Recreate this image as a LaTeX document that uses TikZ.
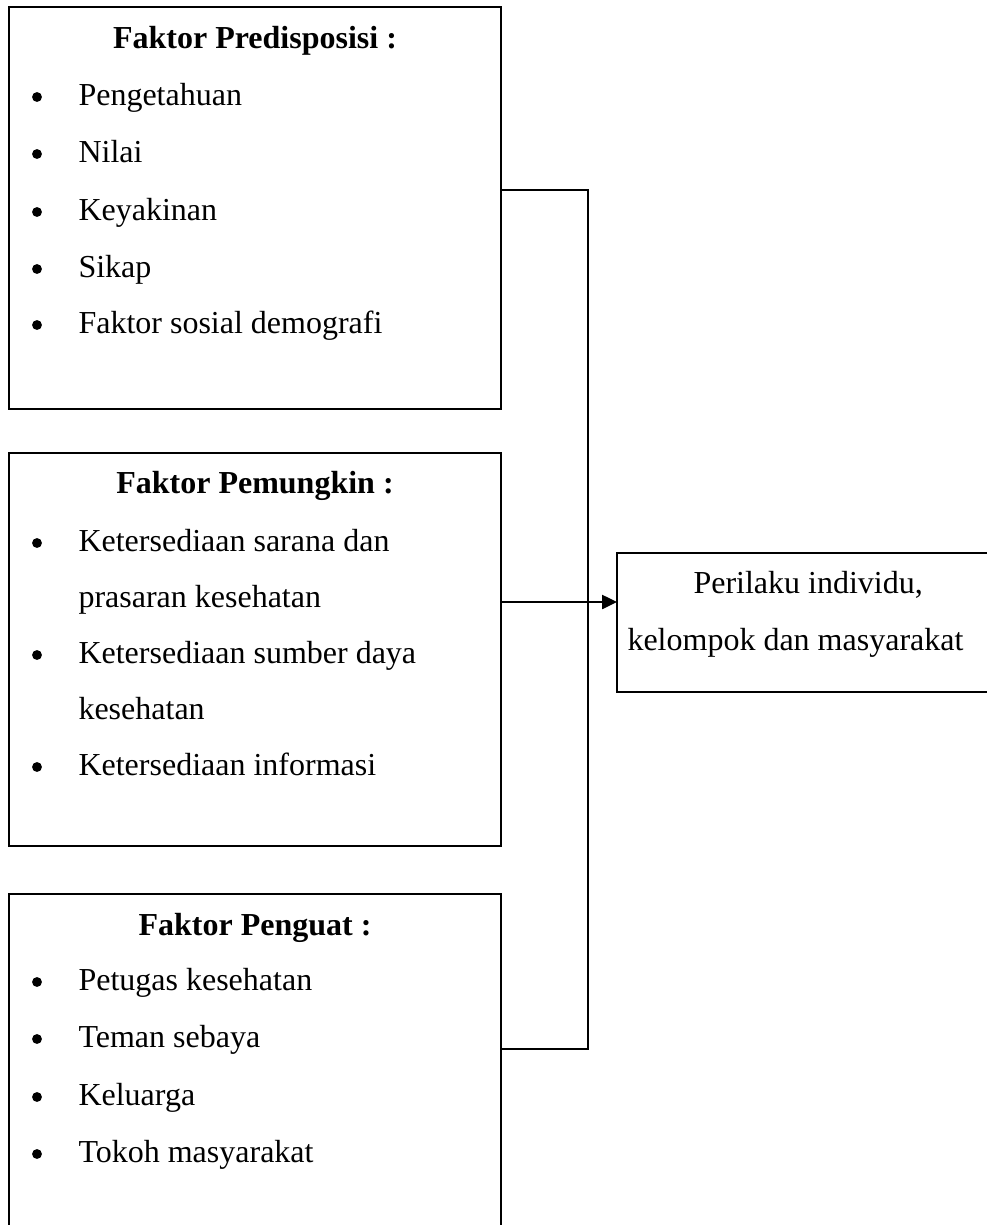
\documentclass[tikz,border=0pt]{standalone}
\usepackage{fontspec}
\setmainfont{Liberation Serif}
\usetikzlibrary{arrows.meta}
\begin{document}
\begin{tikzpicture}[x=0.375pt,y=-0.375pt,
  box/.style={draw, line width=0.7pt, rectangle, inner sep=0pt, outer sep=0pt, anchor=north west},
  txt/.style={anchor=base west, inner sep=0pt, font=\fontsize{12}{14}\selectfont},
  ttl/.style={anchor=base, inner sep=0pt, font=\fontsize{12}{14}\selectfont\bfseries},
  dot/.style={circle, fill=black, draw=none, inner sep=0pt, minimum size=3.7pt},
  conn/.style={line width=0.7pt}]
\useasboundingbox (0,0) rectangle (987,1225);

% boxes
\node[box, minimum width=184.5pt, minimum height=150.75pt] (b1) at (9,7) {};
\node[box, minimum width=184.5pt, minimum height=147.4pt] (b2) at (9,453) {};
\node[box, minimum width=184.5pt, minimum height=132pt] (b3) at (9,894) {};
\node[box, minimum width=145pt, minimum height=52.1pt] (rb) at (617,553) {};

% box 1
\node[ttl] (t1) at (255,48) {Faktor Predisposisi :};
\foreach \yy/\tt [count=\i] in {105/Pengetahuan, 162/Nilai, 220/Keyakinan, 277/Sikap, 333/Faktor sosial demografi}{
  \node[dot] (da\i) at (37,\yy-8) {};
  \node[txt] (ia\i) at (78,\yy) {\tt};
}

% box 2
\node[ttl] (t2) at (255,493) {Faktor Pemungkin :};
\foreach \yy in {551,663,775}{
  \node[dot] (db\yy) at (37,\yy-8) {};
}
\node[txt] (ib1) at (78,551) {Ketersediaan sarana dan};
\node[txt] (ib2) at (78,607) {prasaran kesehatan};
\node[txt] (ib3) at (78,663) {Ketersediaan sumber daya};
\node[txt] (ib4) at (78,719) {kesehatan};
\node[txt] (ib5) at (78,775) {Ketersediaan informasi};

% box 3
\node[ttl] (t3) at (255,935) {Faktor Penguat :};
\foreach \yy/\tt [count=\i] in {990/Petugas kesehatan, 1047/Teman sebaya, 1105/Keluarga, 1162/Tokoh masyarakat}{
  \node[dot] (dc\i) at (37,\yy-8) {};
  \node[txt] (ic\i) at (78,\yy) {\tt};
}

% right box text
\node[txt] (r1) at (693,593) {Perilaku individu,};
\node[txt] (r2) at (627,650) {kelompok dan masyarakat};

% connectors
\coordinate (jT) at (588,190);
\coordinate (jB) at (588,1049);
\coordinate (jA) at (588,602);
\draw[conn] (b1.east |- jT) -- (jT) -- (jB) -- (b3.east |- jB);
\draw[conn, -{Triangle[length=5.6pt,width=5.3pt]}] (b2.east |- jA) -- (rb.west |- jA);
\end{tikzpicture}
\end{document}
